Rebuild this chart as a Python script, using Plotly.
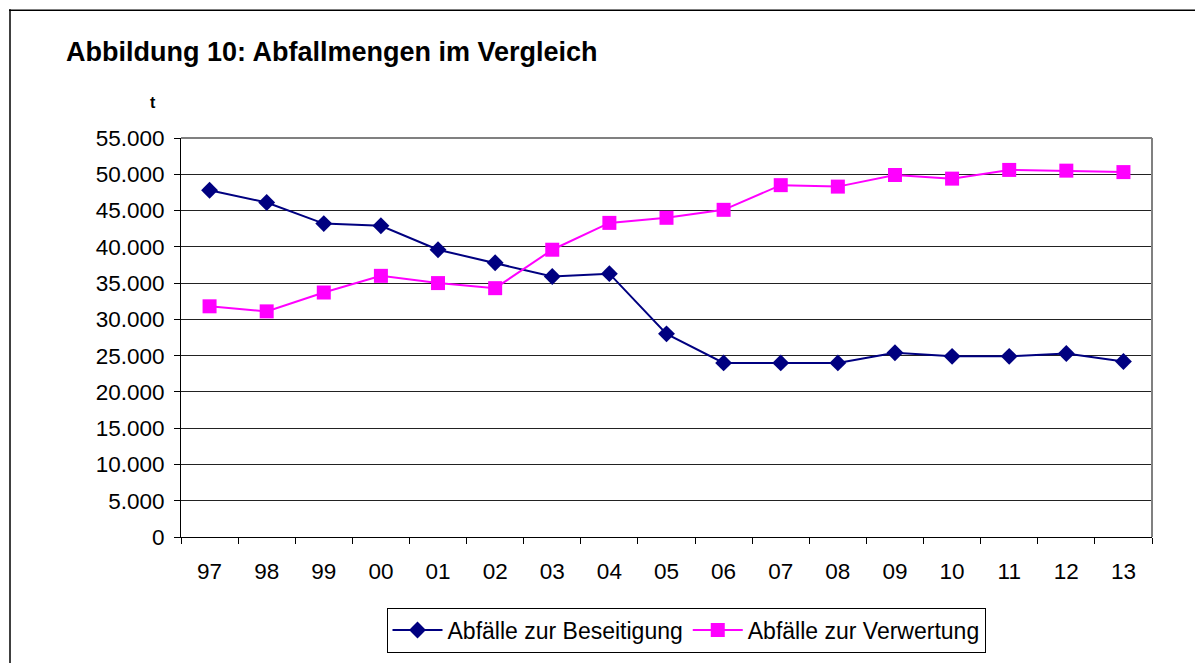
import plotly.graph_objects as go

years = ["97", "98", "99", "00", "01", "02", "03", "04", "05", "06", "07", "08", "09", "10", "11", "12", "13"]
beseitigung = [47800, 46100, 43200, 42900, 39600, 37800, 35900, 36300, 28000, 24000, 24000, 24000, 25400, 24900, 24900, 25300, 24200]
verwertung = [31800, 31100, 33700, 36000, 35000, 34300, 39600, 43300, 44000, 45100, 48500, 48300, 49900, 49400, 50600, 50500, 50300]
y_ticks = [0, 5000, 10000, 15000, 20000, 25000, 30000, 35000, 40000, 45000, 50000, 55000]

W, H = 1195, 663
L, R, T, B = 181, 1152, 138, 538
pw, ph = R - L, B - T

def px(x):
    return (x - L) / pw

def py(y):
    return (B - y) / ph

fig = go.Figure()
fig.add_trace(go.Scatter(
    x=years, y=beseitigung, name="Abfälle zur Beseitigung", mode="lines+markers",
    line=dict(color="#000080", width=2),
    marker=dict(symbol="diamond", size=13, color="#000080"),
))
fig.add_trace(go.Scatter(
    x=years, y=verwertung, name="Abfälle zur Verwertung", mode="lines+markers",
    line=dict(color="#FF00FF", width=2),
    marker=dict(symbol="square", size=14, color="#FF00FF"),
))

font = "Liberation Sans, Arial, sans-serif"
fig.update_layout(
    width=W, height=H,
    margin=dict(l=L, r=W - R, t=T, b=H - B),
    paper_bgcolor="white", plot_bgcolor="white",
    separators=",.",
    font=dict(family=font, size=22, color="black"),
    showlegend=True,
    legend=dict(
        orientation="h", x=px(686), y=py(630), xanchor="center", yanchor="middle",
        bordercolor="black", borderwidth=1, font=dict(size=23, family=font),
        itemwidth=50, tracegroupgap=0,
    ),
    xaxis=dict(
        type="category", tickson="boundaries", ticks="outside", ticklen=6,
        tickcolor="black", showline=True, linecolor="black", linewidth=1,
        mirror=False, showgrid=False, range=[-0.5, 16.5],
        tickfont=dict(size=22.5), ticklabelstandoff=14,
    ),
    yaxis=dict(
        range=[0, 55000], tickvals=y_ticks, tickformat=",d",
        ticks="outside", ticklen=6, tickcolor="black",
        showline=True, linecolor="black", linewidth=1,
        showgrid=True, gridcolor="#222222", gridwidth=1,
        zeroline=False, tickfont=dict(size=22.5), ticklabelstandoff=5,
    ),
    shapes=[
        dict(type="line", xref="paper", yref="paper", x0=0, x1=1, y0=1, y1=1,
             line=dict(color="#808080", width=2)),
        dict(type="line", xref="paper", yref="paper", x0=1, x1=1, y0=0, y1=1,
             line=dict(color="#808080", width=2)),
        dict(type="line", xref="paper", yref="paper", x0=px(9), x1=px(1200), y0=py(10), y1=py(10),
             line=dict(color="black", width=1.5)),
        dict(type="line", xref="paper", yref="paper", x0=px(10), x1=px(10), y0=py(9), y1=py(670),
             line=dict(color="black", width=1.5)),
    ],
    annotations=[
        dict(text="<b>Abbildung 10: Abfallmengen im Vergleich</b>", xref="paper", yref="paper",
             x=px(64), y=py(52), xanchor="left", yanchor="middle", showarrow=False,
             font=dict(size=27, family=font, color="black")),
        dict(text="<b>t</b>", xref="paper", yref="paper",
             x=px(153), y=py(102), xanchor="center", yanchor="middle", showarrow=False,
             font=dict(size=16, family=font, color="black")),
    ],
)

fig.write_html("out.html", config={"displayModeBar": False},
               post_script="document.body.style.margin='0';document.body.style.overflow='hidden';")
